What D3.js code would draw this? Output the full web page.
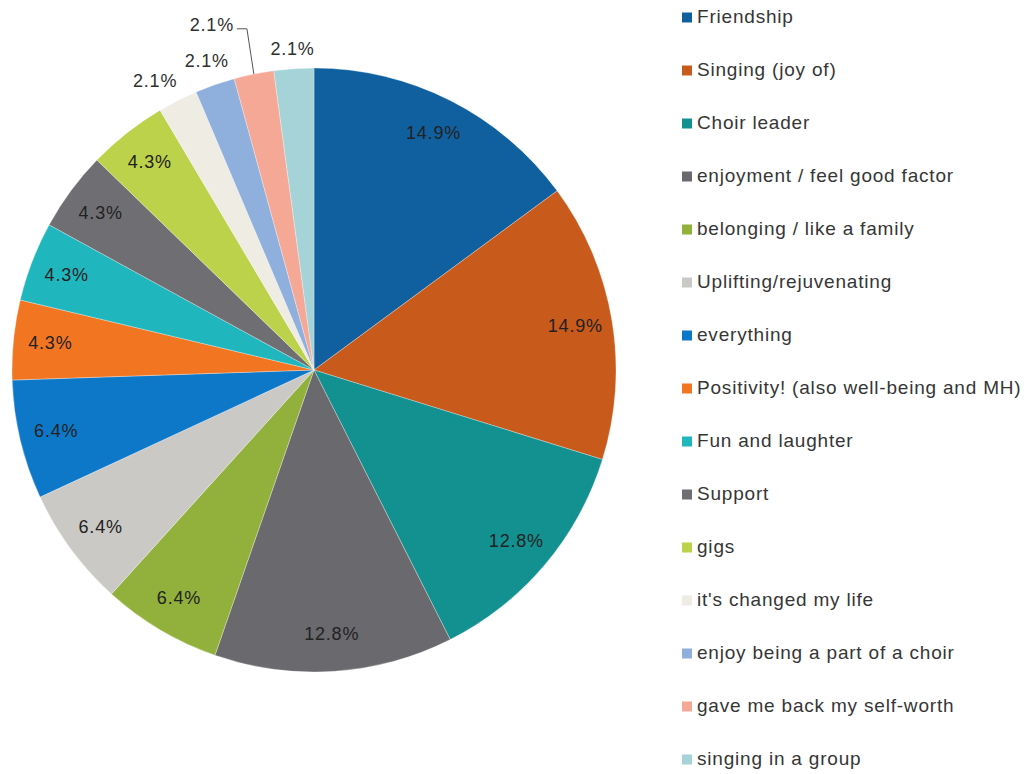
<!DOCTYPE html>
<html>
<head>
<meta charset="utf-8">
<script src="https://cdn.jsdelivr.net/npm/d3@7"></script>
<style>
  html, body { margin: 0; padding: 0; background: #ffffff; }
  svg { display: block; }
  text { font-family: "Liberation Sans", Arial, sans-serif; }
</style>
</head>
<body>
<svg id="chart" width="1030" height="774"></svg>
<script>
// ---- data ----
const categories = [
  "Friendship",
  "Singing (joy of)",
  "Choir leader",
  "enjoyment / feel good factor",
  "belonging / like a family",
  "Uplifting/rejuvenating",
  "everything",
  "Positivity! (also well-being and MH)",
  "Fun and laughter",
  "Support",
  "gigs",
  "it's changed my life",
  "enjoy being a part of a choir",
  "gave me back my self-worth",
  "singing in a group"
];
const counts = [7, 7, 6, 6, 3, 3, 3, 2, 2, 2, 2, 1, 1, 1, 1];
const colors = [
  "#10609f", "#c85a1c", "#139190", "#6a696e", "#92b03c",
  "#cbc9c6", "#0e78c8", "#f27622", "#20b6bd", "#6f6f73",
  "#bcd24b", "#efece4", "#8fafdc", "#f5a896", "#a6d3d8"
];

// ---- layout ----
const svg = d3.select("#chart");
const cx = 314, cy = 370, R = 302;
const insideR = 265;
const total = d3.sum(counts);
const fmt = d3.format(".1%");

const pie = d3.pie().sort(null).value(d => d)(counts);
const arc = d3.arc().innerRadius(0).outerRadius(R);

const g = svg.append("g").attr("transform", `translate(${cx},${cy})`);

g.selectAll("path.slice")
  .data(pie)
  .join("path")
  .attr("class", "slice")
  .attr("d", arc)
  .attr("fill", (d, i) => colors[i])
  .attr("stroke", "#ffffff")
  .attr("stroke-width", 0.3);

const mid = d => (d.startAngle + d.endAngle) / 2;
const polar = (a, r) => [r * Math.sin(a), -r * Math.cos(a)];

// inside labels
const labelFont = 18, labelSpacing = 0.8;
pie.forEach((d, i) => {
  if (d.value / total < 0.03) return;
  const [x, y] = polar(mid(d), insideR);
  g.append("text")
    .attr("x", x).attr("y", y)
    .attr("text-anchor", "middle")
    .attr("dominant-baseline", "central")
    .attr("font-size", labelFont)
    .attr("letter-spacing", labelSpacing)
    .attr("fill", "#222222")
    .text(fmt(d.value / total));
});

// outside labels (small slices) with simple collision handling
const outside = pie.map((d, i) => ({ d, i })).filter(o => o.d.value / total < 0.03);
const halfH = 8, gap = 10, pad = 6;
const probe = g.append("text").attr("font-size", labelFont).attr("letter-spacing", labelSpacing).text("2.1%");
const halfW = probe.node().getComputedTextLength() / 2;
probe.remove();

function placeAt(a) {
  const s = Math.sin(a), c = Math.cos(a);
  const support = halfW * Math.abs(s) + halfH * Math.abs(c);
  const rr = R + gap + support;
  return [rr * s, -rr * c];
}
function box(p) { return { x0: p[0] - halfW, x1: p[0] + halfW, y0: p[1] - halfH, y1: p[1] + halfH }; }
function overlap(a, b) {
  return a.x0 < b.x1 + pad && b.x0 < a.x1 + pad && a.y0 < b.y1 + pad && b.y0 < a.y1 + pad;
}

outside.forEach(o => { o.a = mid(o.d); o.p = placeAt(o.a); o.leader = false; });
for (let k = outside.length - 2; k >= 0; k--) {
  const o = outside[k], next = outside[k + 1];
  const prev = k > 0 ? outside[k - 1] : null;
  const hitsNext = overlap(box(o.p), box(next.p));
  const hitsPrev = prev && overlap(box(o.p), box(prev.p));
  if (hitsNext && hitsPrev) {
    const a2 = o.a - 5 * Math.PI / 180;
    o.p = polar(a2, R + 58);
    o.leader = true;
  } else if (hitsNext) {
    let a = o.a;
    while (overlap(box(placeAt(a)), box(next.p)) && a > o.d.startAngle - 0.2) a -= 0.005;
    o.p = placeAt(a);
  }
}

outside.forEach(o => {
  g.append("text")
    .attr("x", o.p[0]).attr("y", o.p[1])
    .attr("text-anchor", "middle")
    .attr("dominant-baseline", "central")
    .attr("font-size", labelFont)
    .attr("letter-spacing", labelSpacing)
    .attr("fill", "#303030")
    .text(fmt(o.d.value / total));
  if (o.leader) {
    const end = polar(o.a, R);
    const sx = o.p[0] + halfW + 3, sy = o.p[1] + 4;
    g.append("path")
      .attr("d", d3.line()([[sx, sy], [sx + 10, sy], end]))
      .attr("fill", "none")
      .attr("stroke", "#555")
      .attr("stroke-width", 1);
  }
});

// ---- legend ----
const legX = 682, legY0 = 23, legStep = 53;
const leg = svg.append("g");
const rows = leg.selectAll("g.row")
  .data(categories)
  .join("g")
  .attr("class", "row")
  .attr("transform", (d, i) => `translate(${legX},${legY0 + i * legStep})`);
rows.append("rect")
  .attr("x", 0).attr("y", -10.5)
  .attr("width", 10).attr("height", 10)
  .attr("fill", (d, i) => colors[i]);
rows.append("text")
  .attr("x", 15).attr("y", 0)
  .attr("font-size", 19)
  .attr("letter-spacing", 0.8)
  .attr("fill", "#363636")
  .text(d => d);
</script>
</body>
</html>
